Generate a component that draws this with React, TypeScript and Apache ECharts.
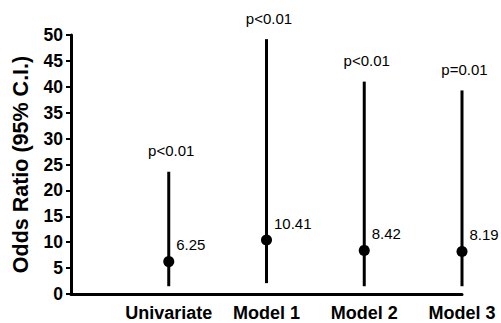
import React, { useEffect, useRef } from "react";
import * as echarts from "echarts";

const categories = ["", "Univariate", "Model 1", "Model 2", "Model 3"];
const oddsRatio = [6.25, 10.41, 8.42, 8.19];
const ciLower = [1.5, 2.1, 1.5, 1.5];
const ciUpper = [23.6, 49.2, 41.0, 39.3];
const pLabels = ["p<0.01", "p<0.01", "p<0.01", "p=0.01"];
const yTicks = { min: 0, max: 50, interval: 5 };

const FONT = "Arial, 'Liberation Sans', Helvetica, sans-serif";
const INK = "#000000";

export default function App() {
  const ref = useRef<HTMLDivElement>(null);
  useEffect(() => {
    if (!ref.current) return;
    const chart = echarts.init(ref.current, null, { renderer: "svg" });
    const ciData = oddsRatio.map((_, i) => [i + 1, ciLower[i], ciUpper[i], i]);
    const pointData = oddsRatio.map((v, i) => [i + 1, v]);
    chart.setOption({
      animation: false,
      grid: { left: 71, right: 39, top: 35, bottom: 29, containLabel: false, outerBoundsMode: "none" },
      xAxis: {
        type: "category",
        data: categories,
        boundaryGap: false,
        axisLine: { lineStyle: { color: INK, width: 3 } },
        axisTick: { show: false },
        axisLabel: {
          interval: 0,
          margin: 10,
          color: INK,
          fontFamily: FONT,
          fontWeight: "bold",
          fontSize: 18,
          lineHeight: 17,
        },
        splitLine: { show: false },
      },
      yAxis: {
        type: "value",
        min: yTicks.min,
        max: yTicks.max,
        interval: yTicks.interval,
        name: "Odds Ratio (95% C.I.)",
        nameLocation: "middle",
        nameRotate: 90,
        nameGap: 39,
        nameTextStyle: { color: INK, fontFamily: FONT, fontWeight: "bold", fontSize: 21.5 },
        axisLine: { show: true, lineStyle: { color: INK, width: 3 } },
        axisTick: { show: true, length: 5, lineStyle: { color: INK, width: 2 } },
        axisLabel: { margin: 8, color: INK, fontFamily: FONT, fontWeight: "bold", fontSize: 17.5 },
        splitLine: { show: false },
      },
      series: [
        {
          type: "custom",
          data: ciData,
          encode: { x: 0, y: [1, 2] },
          renderItem: (params: any, api: any) => {
            const x = api.value(0);
            const lo = api.coord([x, api.value(1)]);
            const hi = api.coord([x, api.value(2)]);
            const idx = api.value(3);
            return {
              type: "group",
              children: [
                {
                  type: "line",
                  shape: { x1: lo[0], y1: lo[1], x2: hi[0], y2: hi[1] },
                  style: { stroke: INK, lineWidth: 3 },
                },
                {
                  type: "text",
                  x: hi[0] + 2.5,
                  y: hi[1] - 21,
                  style: {
                    text: pLabels[idx],
                    fill: INK,
                    font: `15px ${FONT}`,
                    align: "center",
                    verticalAlign: "middle",
                  },
                },
              ],
            };
          },
          z: 2,
        },
        {
          type: "scatter",
          data: pointData,
          symbol: "circle",
          symbolSize: 11,
          itemStyle: { color: INK, opacity: 1 },
          label: {
            show: true,
            position: "right",
            distance: 2,
            offset: [0, -17],
            formatter: (p: any) => p.value[1].toFixed(2),
            color: INK,
            opacity: 1,
            fontFamily: FONT,
            fontSize: 15,
          },
          z: 3,
        },
      ],
    });
    return () => chart.dispose();
  }, []);
  return (
    <div
      ref={ref}
      style={{ position: "fixed", left: 0, top: 0, width: 501, height: 323, background: "#fff" }}
    />
  );
}
